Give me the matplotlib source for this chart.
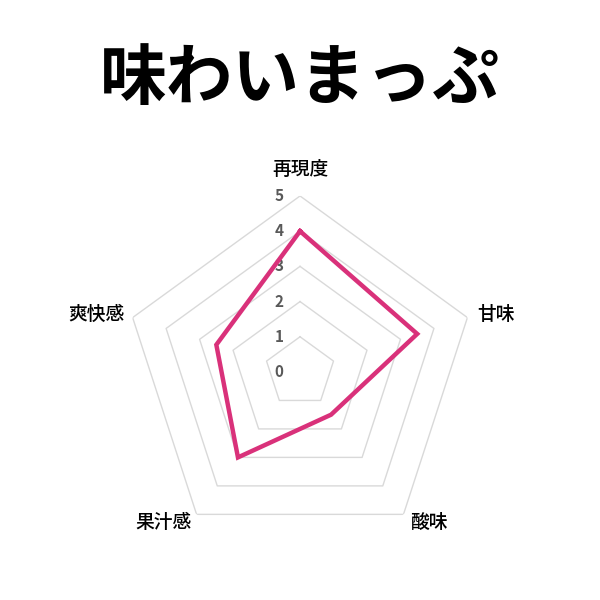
import numpy as np
import matplotlib
matplotlib.use('Agg')
import matplotlib.pyplot as plt

plt.rcParams['font.family'] = ['Noto Sans CJK JP', 'DejaVu Sans']

# データ
title = '味わいまっぷ'
categories = ['再現度', '甘味', '酸味', '果汁感', '爽快感']
values = [4, 3.5, 1.5, 3, 2.5]
levels = [1, 2, 3, 4, 5]
tick_labels = ['0', '1', '2', '3', '4', '5']

line_color = '#D9317A'
grid_color = '#D9D9D9'

n = len(categories)
angles = np.linspace(0, 2 * np.pi, n, endpoint=False)
closed = np.append(angles, angles[0])

fig = plt.figure(figsize=(6, 6), dpi=100)
ax = fig.add_axes([0.2067, 0.0867, 0.5867, 0.5867], projection='polar')
ax.set_theta_offset(np.pi / 2)
ax.set_theta_direction(-1)
ax.set_ylim(0, 5)
ax.grid(False)
ax.spines['polar'].set_visible(False)
ax.set_xticks([])
ax.set_yticks([])

# 五角形のグリッド
for lv in levels:
    ax.plot(closed, [lv] * (n + 1), color=grid_color, lw=1.0, zorder=1)

# データ線
vals = values + values[:1]
ax.plot(closed, vals, color=line_color, lw=3.2, zorder=3, solid_joinstyle='miter')

# 目盛りラベル
for i, t in enumerate(tick_labels):
    ax.annotate(t, (0, i), xytext=(-21, 0), textcoords='offset pixels',
                ha='center', va='center', fontsize=11, fontweight='bold',
                color='#595959', zorder=2)

# 項目ラベル（外周の頂点からのずらし）
label_offsets = [
    ((0, 26), 'center'),
    ((10, 3), 'left'),
    ((7, -8), 'left'),
    ((-5, -8), 'right'),
    ((-8, 3), 'right'),
]
for cat, a, (off, ha) in zip(categories, angles, label_offsets):
    ax.annotate(cat, (a, 5), xytext=off, textcoords='offset pixels',
                ha=ha, va='center', fontsize=13.5, fontweight='medium',
                color='black', annotation_clip=False)

fig.text(0.5, 0.867, title, ha='center', va='center', fontsize=48,
         fontweight='bold', color='black')

fig.savefig('out.png', dpi=100, facecolor='white')
